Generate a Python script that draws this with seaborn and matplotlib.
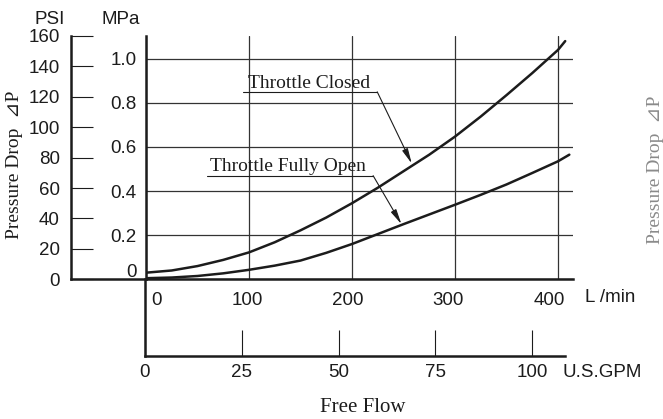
import numpy as np
import pandas as pd
import matplotlib.pyplot as plt
import matplotlib.transforms as mtransforms
import seaborn as sb

# Curve readings (flow in L/min, pressure drop in MPa)
flow_closed = [0, 25, 50, 75, 100, 125, 150, 175, 200, 225, 250, 275, 300,
               325, 350, 375, 400, 407]
mpa_closed = [0.030, 0.040, 0.060, 0.088, 0.122, 0.168, 0.222, 0.280, 0.345,
              0.415, 0.49, 0.565, 0.647, 0.738, 0.835, 0.935, 1.04, 1.08]
flow_open = [0, 25, 50, 75, 100, 125, 150, 175, 200, 225, 250, 275, 300,
             325, 350, 375, 400, 411]
mpa_open = [0.005, 0.008, 0.015, 0.027, 0.043, 0.062, 0.085, 0.120, 0.16,
            0.205, 0.25, 0.294, 0.338, 0.383, 0.43, 0.482, 0.535, 0.565]

# Axis ticks
psi_ticks = [0, 20, 40, 60, 80, 100, 120, 140, 160]
mpa_ticks = [0, 0.2, 0.4, 0.6, 0.8, 1.0]
mpa_labels = ['0', '0.2', '0.4', '0.6', '0.8', '1.0']
lpm_ticks = [0, 100, 200, 300, 400]
gpm_ticks = [0, 25, 50, 75, 100]

PSI_PER_MPA = 145.04

df = pd.concat([
    pd.DataFrame({'flow': flow_closed, 'mpa': mpa_closed, 'state': 'Throttle Closed'}),
    pd.DataFrame({'flow': flow_open, 'mpa': mpa_open, 'state': 'Throttle Fully Open'}),
])

sb.set_style('white')
plt.rcParams['font.family'] = ['Liberation Sans', 'DejaVu Sans']
serif = ['Liberation Serif', 'DejaVu Sans', 'Noto Sans CJK JP']
ink = '#1c1c1c'

W, H = 663, 419
fig = plt.figure(figsize=(W / 100, H / 100), dpi=100)


def box(x0, y0, x1, y1):
    # pixel box (top-left origin) -> figure fraction rect
    return [x0 / W, 1 - y1 / H, (x1 - x0) / W, (y1 - y0) / H]


def shift(label, dx, dy):
    label.set_transform(label.get_transform() +
                        mtransforms.ScaledTranslation(dx / 100, dy / 100, fig.dpi_scale_trans))


base_y, top_y = 279.3, 36
ax = fig.add_axes(box(146, top_y, 573, base_y))
ax_psi = fig.add_axes(box(71, top_y, 146, base_y))
ax_gpm = fig.add_axes(box(145, base_y, 565, 356))

# ---- main chart (L/min vs MPa)
sb.lineplot(data=df, x='flow', y='mpa', hue='state', palette=[ink, ink],
            legend=False, lw=1.8, ax=ax, sort=True)
ax.set_xlim(0, 427 / 1.03)
ax.set_ylim(0, 160 / PSI_PER_MPA)
ax.set_xticks(lpm_ticks)
ax.set_yticks(mpa_ticks)
ax.set_yticklabels(mpa_labels)
ax.grid(True, color='#333333', lw=0.9)
ax.tick_params(axis='both', length=0, labelsize=13.5, colors=ink)
ax.tick_params(axis='y', pad=7)
ax.tick_params(axis='x', pad=9)
ax.set_xlabel('')
ax.set_ylabel('')
for s in ['top', 'right']:
    ax.spines[s].set_visible(False)
for s in ['left', 'bottom']:
    ax.spines[s].set_linewidth(1.8)
    ax.spines[s].set_color(ink)

# nudge a few tick labels like the original print
shift(ax.get_yticklabels()[0], 0, 9)
for lab, dx in zip(ax.get_xticklabels(), [11, -2, -4, -7, -9]):
    shift(lab, dx, 0)

# ---- PSI scale
ax_psi.set_ylim(0, 160)
ax_psi.set_xlim(0, 1)
ax_psi.set_yticks(psi_ticks)
ax_psi.set_xticks([])
ax_psi.tick_params(axis='y', left=True, direction='in', length=16, width=0.8,
                   pad=8, labelsize=13.5, colors=ink)
ax_psi.patch.set_alpha(0)
for s in ['top', 'right']:
    ax_psi.spines[s].set_visible(False)
for s in ['left', 'bottom']:
    ax_psi.spines[s].set_linewidth(1.8)
    ax_psi.spines[s].set_color(ink)

# ---- U.S. GPM scale
ax_gpm.set_xlim(0, 420 / 3.87)
ax_gpm.set_ylim(0, 1)
ax_gpm.set_xticks(gpm_ticks)
ax_gpm.set_yticks([])
ax_gpm.tick_params(axis='x', bottom=True, direction='in', length=19, width=0.8,
                   pad=6, labelsize=13.5, colors=ink)
ax_gpm.patch.set_alpha(0)
for s in ['top', 'right']:
    ax_gpm.spines[s].set_visible(False)
for s in ['left', 'bottom']:
    ax_gpm.spines[s].set_linewidth(1.8)
    ax_gpm.spines[s].set_color(ink)

# ---- callouts
arrow = dict(arrowstyle='-|>,head_length=0.9,head_width=0.18', lw=0.8,
             color=ink, shrinkA=0, shrinkB=0)
ax.text(99, 0.868, 'Throttle Closed', family=serif, fontsize=14, color=ink)
ax.plot([94, 224.5], [0.85, 0.85], color=ink, lw=0.8)
ax.annotate('', xy=(258, 0.525), xytext=(224.5, 0.85), arrowprops=arrow)

ax.text(62, 0.49, 'Throttle Fully Open', family=serif, fontsize=14, color=ink)
ax.plot([59, 220.5], [0.47, 0.47], color=ink, lw=0.8)
ax.annotate('', xy=(248, 0.25), xytext=(220.5, 0.47), arrowprops=arrow)

# ---- unit and axis titles
fig.text(50 / W, 1 - 20 / H, 'PSI', ha='center', va='center', fontsize=13.5, color=ink)
fig.text(121 / W, 1 - 20 / H, 'MPa', ha='center', va='center', fontsize=13.5, color=ink)
fig.text(585 / W, 1 - 297 / H, 'L /min', ha='left', va='center', fontsize=13.5, color=ink)
fig.text(563 / W, 1 - 372 / H, 'U.S.GPM', ha='left', va='center', fontsize=13.5, color=ink)
fig.text(363 / W, 1 - 407 / H, 'Free Flow', ha='center', va='center',
         family=serif, fontsize=15, color=ink)
fig.text(15 / W, 1 - 165 / H, 'Pressure Drop  \u22bfP', ha='center', va='center',
         rotation=90, family=serif, fontsize=14, color=ink)
# faint bleed-through of the label from the neighbouring chart at the edge
fig.text(655 / W, 1 - 170 / H, 'Pressure Drop  \u22bfP', ha='center', va='center',
         rotation=90, family=serif, fontsize=14, color='#8a8a8a')

fig.savefig('out.png', dpi=100)
